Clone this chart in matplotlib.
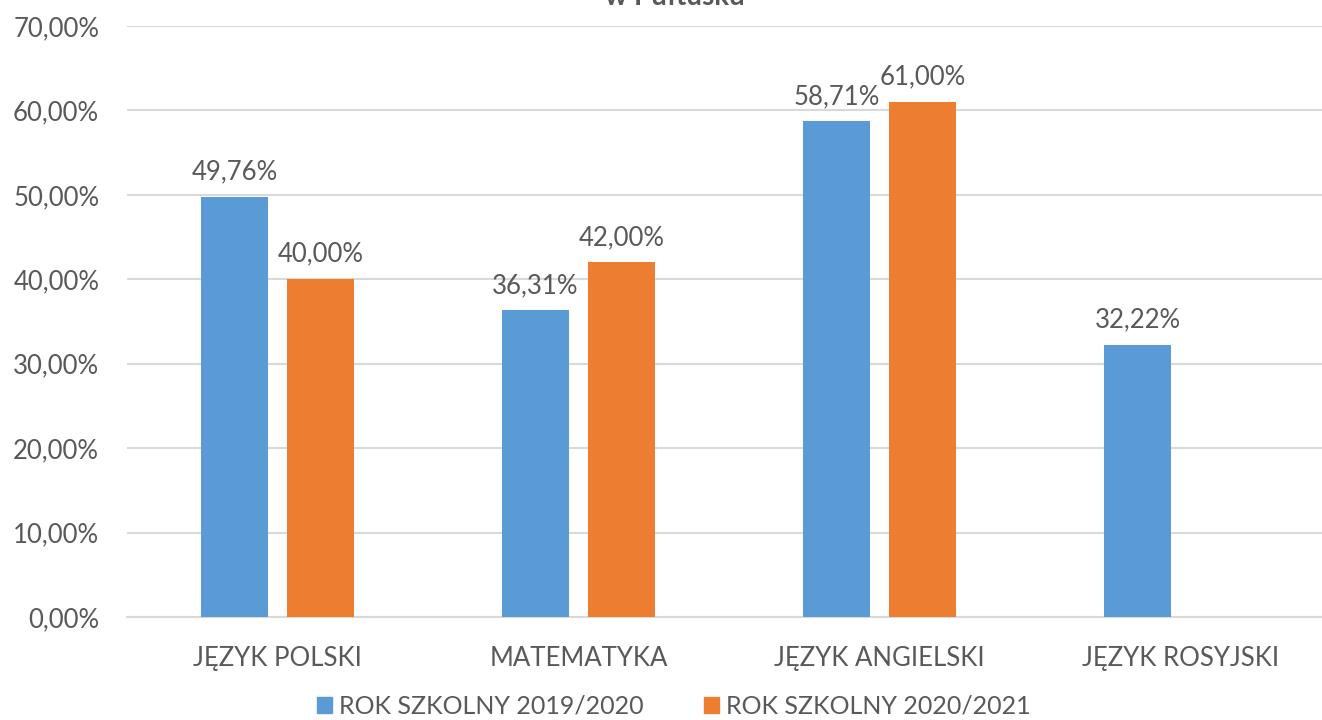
import matplotlib
matplotlib.use("Agg")
import matplotlib.pyplot as plt
from matplotlib.patches import Patch
import numpy as np

categories = ["JĘZYK POLSKI", "MATEMATYKA", "JĘZYK ANGIELSKI", "JĘZYK ROSYJSKI"]
series_names = ["ROK SZKOLNY 2019/2020", "ROK SZKOLNY 2020/2021"]
values_2019 = [49.76, 36.31, 58.71, 32.22]
values_2020 = [40.00, 42.00, 61.00, None]
yticks = [0, 10, 20, 30, 40, 50, 60, 70]
title_text = "w Pułtusku"

colors = ["#5B9BD5", "#ED7D31"]
text_color = "#595959"
plt.rcParams['font.family'] = ['Lato', 'DejaVu Sans']

W, H = 1322, 720
fig = plt.figure(figsize=(W / 100, H / 100), dpi=100)
left, right = 127, 1331
bottom, top = 617, 26
ax = fig.add_axes([left / W, (H - bottom) / H, (right - left) / W, (bottom - top) / H])

x = np.arange(len(categories))
bw = 0.223
off = 0.143

def fmt(v):
    return f"{v:.2f}".replace(".", ",") + "%"

for vals, sign, col in [(values_2019, -1, colors[0]), (values_2020, 1, colors[1])]:
    xs = [xi + sign * off for xi, v in zip(x, vals) if v is not None]
    vs = [v for v in vals if v is not None]
    ax.bar(xs, vs, width=bw, color=col, zorder=3)
    for xi, v in zip(xs, vs):
        ax.annotate(fmt(v), (xi, v), xytext=(0, 9), textcoords="offset points",
                    ha="center", va="bottom", fontsize=18.5, color=text_color)

ax.set_xlim(-0.5, len(categories) - 0.5)
ax.set_ylim(0, 70)
ax.set_yticks(yticks)
ax.set_yticklabels([f"{t},00%" for t in yticks])
ax.set_xticks(x)
ax.set_xticklabels(categories)
ax.grid(axis="y", color="#D9D9D9", linewidth=1.5, zorder=0)
ax.set_axisbelow(True)
for s in ["top", "right", "left"]:
    ax.spines[s].set_visible(False)
ax.spines["bottom"].set_color("#D9D9D9")
ax.spines["bottom"].set_linewidth(1.5)
ax.tick_params(axis="both", length=0, labelsize=18.5, labelcolor=text_color)
ax.tick_params(axis="y", pad=20)
ax.tick_params(axis="x", pad=21)

fig.text(675 / W, (H - 5) / H, title_text, ha="center", va="baseline",
         fontsize=20, fontweight="bold", color=text_color)

handles = [Patch(color=c) for c in colors]
fig.legend(handles, series_names, loc="center", bbox_to_anchor=(674 / W, (H - 706) / H),
           ncol=2, frameon=False, fontsize=18, labelcolor=text_color,
           handlelength=0.6, handleheight=0.6, handletextpad=0.3, columnspacing=2.4)

fig.savefig("out.png", dpi=100)
